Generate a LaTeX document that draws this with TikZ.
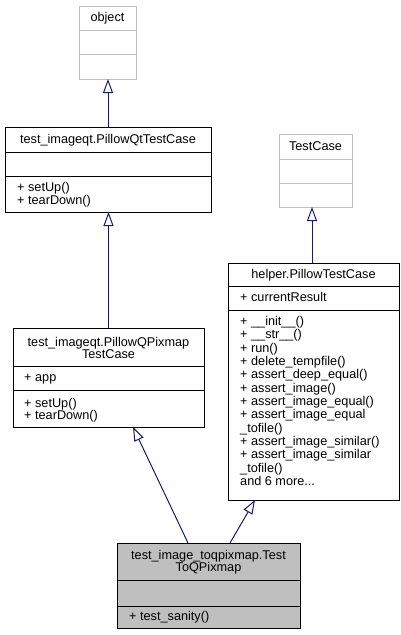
\documentclass[tikz,border=0pt]{standalone}
\usepackage{fontspec}
\setmainfont{Liberation Sans}
\usetikzlibrary{arrows.meta}

\definecolor{edgeblue}{HTML}{191970}
\definecolor{boxgray}{HTML}{BFBFBF}

% box of a class: name, style, left, top, right, bottom
\newcommand{\classbox}[6]{%
  \node[#2, minimum width={(#5-#3)*1pt}, minimum height={(#6-#4)*1pt}] (#1)
    at ({(#3+#5)/2},{(#4+#6)/2}) {};}
% line between two parts of a class box
\newcommand{\partline}[3]{\draw[#3] (#1.west |- 0,#2) -- (#1.east |- 0,#2);}

\tikzset{
  umlbox/.style={draw=black, fill=white, line width=1pt, inner sep=0pt, outer sep=0pt},
  basebox/.style={umlbox, draw=boxgray},
  thisbox/.style={umlbox, fill=boxgray},
  boxtitle/.style={anchor=base, inner sep=0pt, align=center},
  members/.style={anchor=base west, inner sep=0pt, align=left},
  inherit/.style={draw=edgeblue, line width=1pt,
    -{Triangle[open, length=14pt, width=10pt]}},
}

\begin{document}
\begin{tikzpicture}[x=1pt, y=-1pt, font=\fontsize{12.7}{12.5}\selectfont]
    \useasboundingbox (0,0) rectangle (401,635);

    % (multi-line texts are placed at the baseline of their last line)
    \classbox{obj}{basebox}{79}{6}{136}{79}
    \partline{obj}{30}{draw=boxgray, line width=1pt}
    \partline{obj}{54}{draw=boxgray, line width=1pt}
    \node[boxtitle] (objname) at (107.5,21.5) {object};

    \classbox{qt}{umlbox}{5}{127}{211}{212}
    \partline{qt}{152}{line width=1pt}
    \partline{qt}{176}{line width=1pt}
    \node[boxtitle] (qtname) at (108,143.5) {test\_imageqt.PillowQtTestCase};
    \node[members] (qtops) at (17,204) {+ setUp()\\+ tearDown()};

    \classbox{tcase}{basebox}{279}{134}{352}{207}
    \partline{tcase}{159}{draw=boxgray, line width=1pt}
    \partline{tcase}{183}{draw=boxgray, line width=1pt}
    \node[boxtitle] (tcasename) at (315.5,150) {TestCase};

    \classbox{helper}{umlbox}{228}{263}{399}{500}
    \partline{helper}{286}{line width=1pt}
    \partline{helper}{310}{line width=1pt}
    \node[boxtitle] (helpername) at (313.5,278.5) {helper.PillowTestCase};
    \node[members] (helperattr) at (240,301.5) {+ currentResult};
    \node[members, font=\fontsize{12.7}{13.33}\selectfont] (helperops) at (240,485.5)
      {+ \_\_init\_\_()\\+ \_\_str\_\_()\\+ run()\\+ delete\_tempfile()\\
       + assert\_deep\_equal()\\+ assert\_image()\\+ assert\_image\_equal()\\
       + assert\_image\_equal\\\_tofile()\\+ assert\_image\_similar()\\
       + assert\_image\_similar\\\_tofile()\\and 6 more...};

    \classbox{pixmap}{umlbox}{13}{328}{204}{427}
    \partline{pixmap}{366}{line width=1pt}
    \partline{pixmap}{390}{line width=1pt}
    \node[boxtitle] (pixmapname) at (108.5,358.5) {test\_imageqt.PillowQPixmap\\TestCase};
    \node[members] (pixmapattr) at (24,381.5) {+ app};
    \node[members] (pixmapops) at (24,419.5) {+ setUp()\\+ tearDown()};

    \classbox{toq}{thisbox}{117}{543}{300}{628}
    \partline{toq}{580}{line width=1pt}
    \partline{toq}{606}{line width=1pt}
    \node[boxtitle] (toqname) at (208.5,571.5) {test\_image\_toqpixmap.Test\\ToQPixmap};
    \node[members] (toqops) at (129,620.5) {+ test\_sanity()};

    % inheritance
    \draw[inherit] (qt.north) -- (qt.north |- obj.south);
    \draw[inherit] (pixmap.north) -- (pixmap.north |- qt.south);
    \draw[inherit] ([xshift=-1.5pt]helper.north) -- ([xshift=-3.5pt]tcase.south);
    \draw[inherit] ([xshift=-20.5pt]toq.north) -- ([xshift=24.5pt]pixmap.south);
    \draw[inherit] ([xshift=21.5pt]toq.north) -- ([xshift=-58.5pt]helper.south);
\end{tikzpicture}
\end{document}
